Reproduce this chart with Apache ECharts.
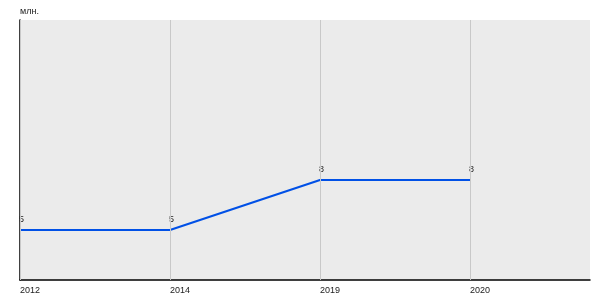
<!DOCTYPE html>
<html><head><meta charset="utf-8">
<script src="https://cdn.jsdelivr.net/npm/echarts@6/dist/echarts.min.js"></script>
<style>html,body{margin:0;padding:0;background:#fff}#c{width:600px;height:300px}</style>
</head><body><div id="c"></div>
<script>
const categories = ['2012', '2014', '2019', '2020'];
const values = [5, 5, 8, 8];
const unitLabel = 'млн.';

const chart = echarts.init(document.getElementById('c'), null, {renderer: 'canvas'});
chart.setOption({
  animation: false,
  textStyle: {fontFamily: 'Liberation Sans, Arial, sans-serif'},
  grid: {left: 20, right: 10, top: 20, bottom: 20, show: true, backgroundColor: '#ebebeb', borderWidth: 0},
  xAxis: {
    type: 'value', min: 0, max: 3.8, interval: 1,
    axisLine: {show: true, onZero: false, lineStyle: {color: '#000', width: 1.5}},
    axisTick: {show: false},
    axisLabel: {
      showMaxLabel: false, align: 'left', margin: 6, color: '#222', fontSize: 9,
      formatter: v => (Number.isInteger(v) && categories[v] !== undefined) ? categories[v] : ''
    },
    splitLine: {show: false}
  },
  yAxis: {
    type: 'value', min: 2, max: 17.6,
    name: unitLabel, nameLocation: 'end', nameGap: 4,
    nameTextStyle: {align: 'left', color: '#222', fontSize: 9, padding: 0},
    axisLine: {show: true, lineStyle: {color: '#000', width: 1.5}},
    axisTick: {show: false}, axisLabel: {show: false}, splitLine: {show: false}
  },
  series: [{
    type: 'line',
    data: [],
    z: 1,
    silent: true,
    markLine: {
      silent: true, symbol: 'none', label: {show: false},
      lineStyle: {color: '#c8c8c8', width: 1, type: 'solid'},
      data: categories.map((c, i) => ({xAxis: i}))
    }
  }, {
    type: 'line',
    z: 3,
    data: values.map((v, i) => [i, v]),
    symbol: 'circle', symbolSize: 0,
    lineStyle: {color: '#0050e6', width: 2},
    itemStyle: {color: '#0050e6'},
    label: {show: true, position: 'top', align: 'left', offset: [-1, -1], color: '#222', fontSize: 9}
  }]
});
</script></body></html>
